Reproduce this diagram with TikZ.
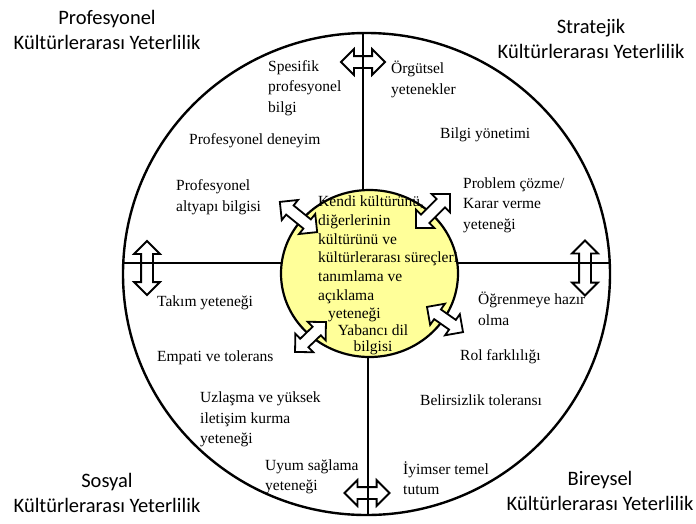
\documentclass[tikz,border=0pt]{standalone}
\usepackage{fontspec}
\setmainfont{Liberation Serif}
\newfontfamily\titlefont{Carlito}
\usepackage{tikz}
\usetikzlibrary{shapes.geometric,shapes.arrows}
\definecolor{corefill}{RGB}{255,255,153}

\begin{document}
\begin{tikzpicture}[x=1pt,y=-1pt,
  lbl/.style={anchor=west, align=left, inner sep=0pt, font=\fontsize{15.5}{20.5}\selectfont},
  ttl/.style={align=center, inner sep=0pt, font=\titlefont\fontsize{20.5}{25}\selectfont},
  dbl/.style={double arrow, draw, fill=white, line width=1.8pt, inner xsep=0pt, inner ysep=5pt,
    double arrow head extend=7pt, minimum height=#1}]
\useasboundingbox (0,0) rectangle (696,523);

% Circles
\node[ellipse, draw, line width=2.4pt, minimum width=487pt, minimum height=482pt, inner sep=0pt] (outer) at (366.5,274) {};
\node[ellipse, draw, line width=2.2pt, fill=corefill, minimum width=177pt, minimum height=167pt, inner sep=0pt] (core) at (369.5,273.5) {};

% Arrows
\node[dbl=54pt, rotate=90] (al) at (147,268) {};
\node[dbl=55pt, rotate=90] (ar) at (585,268) {};
\node[dbl=44pt] (at) at (363,62) {};
\node[dbl=45pt] (ab) at (367,493) {};
\node[dbl=48pt, rotate=-39] (aul) at (298.5,217) {};
\node[dbl=48pt, rotate=45] (aur) at (433,211) {};
\node[dbl=43pt, rotate=44] (all) at (310.5,337) {};
\node[dbl=44pt, rotate=-35] (alr) at (445,319.5) {};

% Lines
\coordinate (lo) at (123.3,263);
\coordinate (li) at (282,263);
\coordinate (ro) at (609.7,263);
\coordinate (ri) at (457,263);
\coordinate (to) at (363,33);
\coordinate (ti) at (363,190.2);
\coordinate (bi) at (368,356.9);
\coordinate (bo) at (368,515);
\draw[line width=2.2pt] (lo) -- (li);
\draw[line width=2.2pt] (ri) -- (ro);
\draw[line width=2.2pt] (to) -- (ti);
\draw[line width=2.2pt] (bi) -- (bo);

% Core text
\node[lbl, font=\fontsize{15.5}{18.7}\selectfont] (kendi) at (318,259) {Kendi kültürünü,\\diğerlerinin\\kültürünü ve\\kültürlerarası süreçleri\\tanımlama ve\\açıklama\\\hspace*{10pt}yeteneği};
\node[lbl, anchor=center, align=center, font=\fontsize{15.5}{16}\selectfont] (yabanci) at (373,340) {Yabancı dil\\bilgisi};

% Labels
\node[lbl] (spes) at (268,88) {Spesifik\\profesyonel\\bilgi};
\node[lbl] (deney) at (189,141) {Profesyonel deneyim};
\node[lbl] (altyapi) at (176,197) {Profesyonel\\altyapı bilgisi};
\node[lbl] (orgut) at (391,79.5) {Örgütsel\\yetenekler};
\node[lbl] (bilgi) at (440,135) {Bilgi yönetimi};
\node[lbl] (problem) at (463,205) {Problem çözme/\\Karar verme\\yeteneği};
\node[lbl] (takim) at (157,303) {Takım yeteneği};
\node[lbl] (empati) at (157,358) {Empati ve tolerans};
\node[lbl] (uzlasma) at (200,419.5) {Uzlaşma ve yüksek\\iletişim kurma\\yeteneği};
\node[lbl] (uyum) at (265,477) {Uyum sağlama\\yeteneği};
\node[lbl] (ogren) at (478,309) {Öğrenmeye hazır\\olma};
\node[lbl] (rol) at (460,357) {Rol farklılığı};
\node[lbl] (belirsiz) at (420,400) {Belirsizlik toleransı};
\node[lbl] (iyimser) at (403,478) {İyimser temel\\tutum};

% Titles
\node[ttl] (prof) at (107,29.5) {Profesyonel\\Kültürlerarası Yeterlilik};
\node[ttl] (strat) at (591,38.5) {Stratejik\\Kültürlerarası Yeterlilik};
\node[ttl] (sosyal) at (107,492.5) {Sosyal\\Kültürlerarası Yeterlilik};
\node[ttl] (bireysel) at (600,490.5) {Bireysel\\Kültürlerarası Yeterlilik};
\end{tikzpicture}
\end{document}
